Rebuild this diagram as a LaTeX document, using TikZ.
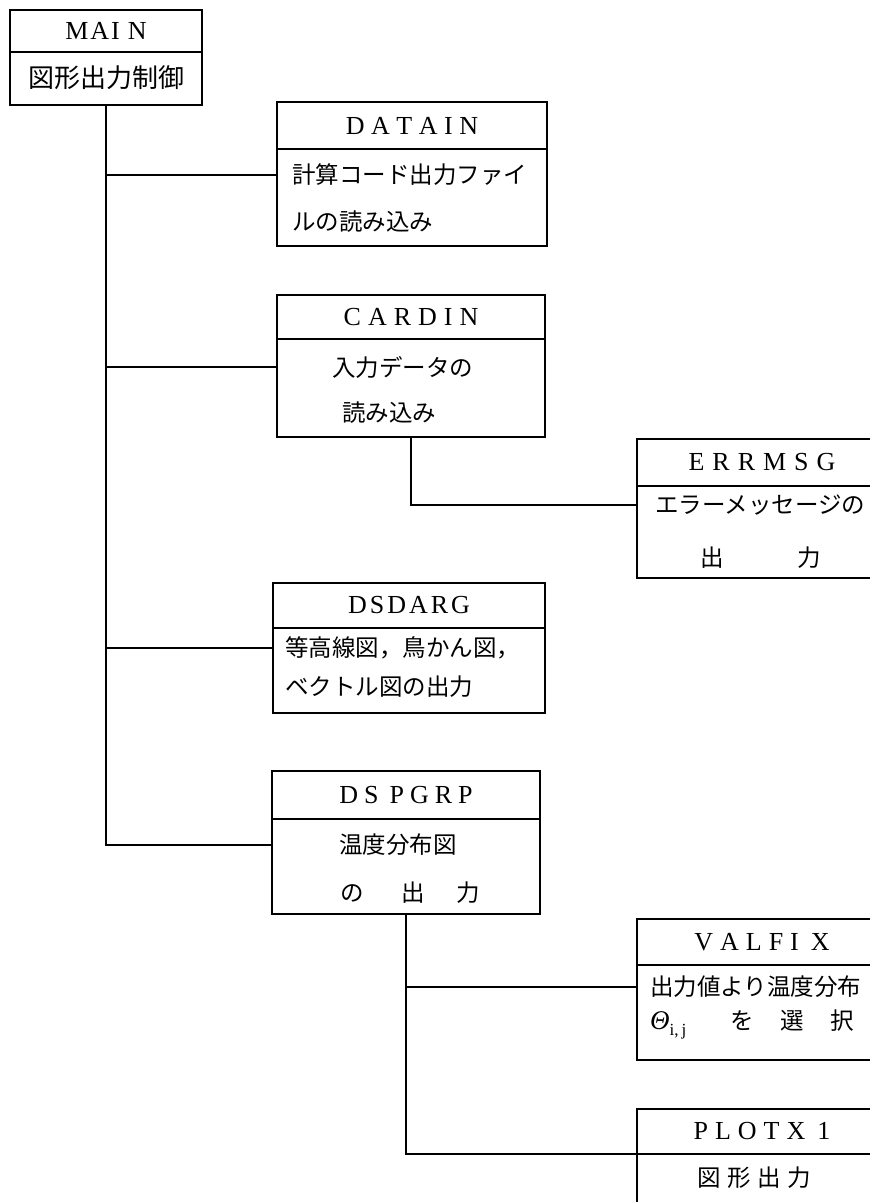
\documentclass[tikz,border=0pt]{standalone}
\usepackage{amsmath}
\usepackage{fontspec}
\setmainfont{Liberation Serif}
\newfontfamily\jp{Noto Sans CJK JP}
\newcommand\gp[1]{\kern#1pt\relax}
\tikzset{
  box/.style={draw, line width=1.2pt, anchor=north west, inner sep=0pt, outer sep=0pt,
              font=\fontsize{26}{26}\selectfont},
  jl/.style={font=\jp\fontsize{23.5}{24}\selectfont, anchor=west, inner sep=0pt},
  link/.style={line width=1.2pt},
}
\begin{document}
\begin{tikzpicture}[x=1pt,y=-1pt]
\useasboundingbox (0,0) rectangle (870,1202);
\clip (0,0) rectangle (870,1202);
% MAIN
\node[box, minimum width=192pt, minimum height=42pt] (mainT) at (10,10) {M\gp{2}A\gp{2}I\gp{8}N};
\node[box, minimum width=192pt, minimum height=53pt] (mainB) at (10,52) {};
\node[jl, anchor=center, font=\jp\fontsize{26}{26}\selectfont] (mainL1) at (106,78) {図形出力制御};
% DATAIN
\node[box, minimum width=270pt, minimum height=47pt] (datainT) at (277,102) {D\gp{6.5}A\gp{6.5}T\gp{6.5}A\gp{6.5}I\gp{6.5}N};
\node[box, minimum width=270pt, minimum height=97pt] (datainB) at (277,149) {};
\node[jl] (datainL1) at (292,175) {計算コード出力ファイ};
\node[jl] (datainL2) at (292,222) {ルの読み込み};
% CARDIN
\node[box, minimum width=268pt, minimum height=44pt] (cardinT) at (277,295) {C\gp{7}A\gp{7}R\gp{7}D\gp{7}I\gp{7}N};
\node[box, minimum width=268pt, minimum height=98pt] (cardinB) at (277,339) {};
\node[jl] (cardinL1) at (332,367) {入力データの};
\node[jl] (cardinL2) at (342,413) {読み込み};
% ERRMSG
\node[box, minimum width=250pt, minimum height=47pt] (errT) at (637,439) {E\gp{8}R\gp{8}R\gp{8}M\gp{8}S\gp{8}G};
\node[box, minimum width=250pt, minimum height=92pt] (errB) at (637,486) {};
\node[jl] (errL1) at (655,505) {エラーメッセージの};
\node[jl] (errL2) at (700,558) {出\hspace{73.5pt}力};
% DSDARG
\node[box, minimum width=272pt, minimum height=45pt] (dsdargT) at (273,583) {D\gp{3}S\gp{3}D\gp{3}A\gp{3}R\gp{3}G};
\node[box, minimum width=272pt, minimum height=85pt] (dsdargB) at (273,628) {};
\node[jl] (dsdargL1) at (285,648) {等高線図，鳥かん図，};
\node[jl] (dsdargL2) at (285,687) {ベクトル図の出力};
% DSPGRP
\node[box, minimum width=268pt, minimum height=48pt] (dspgrpT) at (272,771) {D\gp{6}S\gp{11}P\gp{6}G\gp{6}R\gp{6}P};
\node[box, minimum width=268pt, minimum height=95pt] (dspgrpB) at (272,819) {};
\node[jl] (dspgrpL1) at (339,845) {温度分布図};
\node[jl] (dspgrpL2) at (340,893) {の\hspace{38pt}出\hspace{31pt}力};
% VALFIX
\node[box, minimum width=250pt, minimum height=46pt] (valfixT) at (637,919) {V\gp{7}A\gp{7}L\gp{7}F\gp{7}I\gp{12}X};
\node[box, minimum width=250pt, minimum height=95pt] (valfixB) at (637,965) {};
\node[jl] (valfixL1) at (650,987) {出力値より温度分布};
\node[jl] (valfixL2) at (650,1024) {\makebox[80pt][l]{{\rmfamily\fontsize{27}{27}\selectfont\itshape Θ}\raisebox{-6pt}{\rmfamily\fontsize{17}{17}\selectfont i,\,j}}を\hspace{26.5pt}選\hspace{26.5pt}択};
% PLOTX1
\node[box, minimum width=250pt, minimum height=45pt] (plotT) at (637,1109) {P\gp{7}L\gp{7}O\gp{7}T\gp{7}X\gp{12}1};
\node[box, minimum width=250pt, minimum height=70pt] (plotB) at (637,1154) {};
\node[jl] (plotL2) at (697,1178) {図\hspace{6.5pt}形\hspace{6.5pt}出\hspace{6.5pt}力};
% connectors
\draw[link] (mainB.south) -- (mainB.south |- dspgrpL1) -- (dspgrpB.west |- dspgrpL1);
\draw[link] (mainB.south |- datainL1) -- (datainB.west |- datainL1);
\draw[link] (mainB.south |- cardinL1) -- (cardinB.west |- cardinL1);
\draw[link] (mainB.south |- dsdargL1) -- (dsdargB.west |- dsdargL1);
\draw[link] (cardinB.south) |- (errB.west |- errL1);
\draw[link] (dspgrpB.south) |- (plotB.north west);
\draw[link] (dspgrpB.south |- valfixL1) -- (valfixB.west |- valfixL1);
\end{tikzpicture}
\end{document}
